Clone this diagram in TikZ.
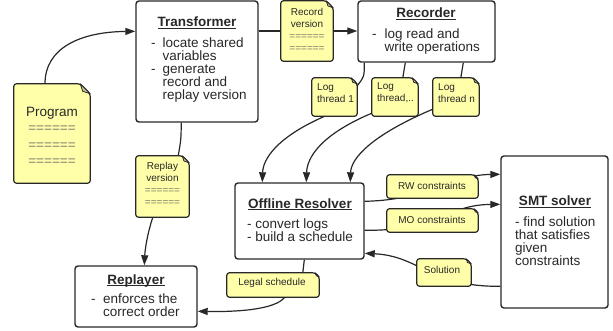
\documentclass[tikz,border=0pt]{standalone}
\usepackage{fontspec}
\setmainfont{Liberation Sans}
\usetikzlibrary{arrows.meta,calc}
\definecolor{notefill}{RGB}{255,255,170}
\definecolor{foldcol}{RGB}{200,196,140}
\definecolor{ink}{RGB}{40,40,40}
\definecolor{eqcol}{RGB}{125,125,105}
\newsavebox\ttlbox
\newcommand\ttl[1]{\sbox\ttlbox{\textbf{#1}}\rlap{\usebox\ttlbox}\rule[-2.4pt]{\wd\ttlbox}{1.1pt}}
\newcommand\eqs{\textcolor{eqcol}{======}}
\newcommand\notefold[2]{%
  \path[noteline] (#1.south west) -- (#1.north west) -- ($(#1.north east)+(-#2,0)$) -- ($(#1.north east)+(0,#2)$) -- (#1.south east) -- cycle;
  \path[foldline] ($(#1.north east)+(-#2,0)$) -- ($(#1.north east)+(-0.75*#2,0.75*#2)$) -- ($(#1.north east)+(0,#2)$) -- cycle;
}
\tikzset{
  box/.style={draw=ink, line width=1.4pt, fill=white, rounded corners=3pt, inner sep=0pt},
  hold/.style={inner sep=0pt, draw=none},
  sz/.style 2 args={minimum width=#1pt, minimum height=#2pt},
  noteline/.style={draw=ink, line width=1.2pt, fill=notefill, rounded corners=2.5pt, line join=round},
  foldline/.style={draw=ink, line width=0.8pt, fill=foldcol, line join=round},
  conn/.style={draw=ink, line width=1.2pt},
  arr/.style={conn, -{Triangle[length=10pt,width=7pt]}},
  big/.style={font=\fontsize{13.5}{13}\selectfont, text=ink, inner sep=0pt},
  small/.style={font=\fontsize{10}{12}\selectfont, text=ink, inner sep=0pt},
}
\begin{document}
\begin{tikzpicture}[x=1pt,y=-1pt]
\useasboundingbox (0,0) rectangle (613,331);
% shapes
\node[box, sz={122}{121}] (trans) at (197,61.5) {};
\node[hold, sz={76}{99}] (prog) at (52,133.5) {};
\node[hold, sz={52}{60}] (recv) at (307,31) {};
\node[box, sz={137}{61}] (rec) at (426.5,31.5) {};
\node[hold, sz={45}{38}] (lt1) at (334.5,97) {};
\node[hold, sz={46}{38}] (lt2) at (395,97) {};
\node[hold, sz={46}{38}] (lt3) at (456,97) {};
\node[box, sz={129}{76}] (off) at (299.5,221) {};
\node[hold, sz={53}{61}] (repv) at (162.5,186.5) {};
\node[box, sz={122}{61}] (repl) at (136,296.5) {};
\node[hold, sz={92}{24}] (legal) at (273,285) {};
\node[hold, sz={91}{23}] (rw) at (432.5,186.5) {};
\node[hold, sz={91}{23}] (mo) at (432.5,220.5) {};
\node[hold, sz={54}{27}] (sol) at (444,272.5) {};
\node[box, sz={107}{152}] (smt) at (554.5,232) {};
\notefold{prog}{10}
\notefold{recv}{7}
\notefold{repv}{7}
\notefold{lt1}{6}
\notefold{lt2}{6}
\notefold{lt3}{6}
% connectors
\draw[arr] ($(prog.north)+(-7,0)$) .. controls (45,48) and (80,32) .. ($(trans.north west)+(0,31)$);
\draw[conn] (trans.east |- recv.west) -- (recv.west);
\draw[arr] (recv.east) -- (recv.east -| rec.west);
\draw[conn] ($(rec.south west)+(7,0)$) .. controls ($(rec.south west)+(7,14)$) .. ($(lt1.north east)+(0,8)$);
\draw[conn] ($(rec.south west)+(48,0)$) -- ($(lt2.north west)+(31,0)$);
\draw[conn] ($(rec.south west)+(106,0)$) -- ($(lt3.north west)+(28,0)$);
\draw[arr] ($(lt1.south west)+(13,0)$) .. controls (275,138) and (263,160) .. ($(off.north west)+(28,0)$);
\draw[arr] ($(lt2.south west)+(0,-3)$) .. controls (320,135) and (307,158) .. ($(off.north west)+(72,0)$);
\draw[arr] ($(lt3.south west)+(0,-7)$) .. controls (372,135) and (351,158) .. ($(off.north west)+(116,0)$);
\draw[conn] ($(trans.south west)+(46,0)$) .. controls (181,140) .. ($(repv.north east)+(-11,0)$);
\draw[arr] ($(repv.south west)+(17,0)$) .. controls (147,235) and (145,250) .. ($(repl.north west)+(70,0)$);
\draw[conn] ($(off.south west)+(70,0)$) -- ($(legal.north west)+(76,0)$);
\draw[arr] ($(legal.south west)+(58,0)$) .. controls (275,310) and (235,312) .. ($(repl.north east)+(0,46)$);
\draw[arr] ($(off.north east)+(0,19)$) .. controls (430,200) and (450,175) .. ($(smt.north west)+(0,19)$);
\draw[arr] ($(off.north east)+(0,48)$) .. controls (440,231) and (445,205) .. ($(smt.north west)+(0,49)$);
\draw[arr] ($(smt.north west)+(0,131)$) .. controls (430,287) and (420,256) .. ($(off.north east)+(0,71)$);
\notefold{rw}{4}
\notefold{mo}{4}
\notefold{sol}{5}
\notefold{legal}{4}
% texts
\node[big, anchor=base] (trans-h) at (197,27) {\ttl{Transformer}};
\node[big, anchor=north west, align=left] (trans-b) at (151,37) {\rule{0pt}{10pt}\makebox[11.5pt][l]{-}locate shared\\\hspace*{11.5pt}variables\\\makebox[11.5pt][l]{-}generate\\\hspace*{11.5pt}record and\\\hspace*{11.5pt}replay version};
\node[big, anchor=base] (rec-h) at (426,18) {\ttl{Recorder}};
\node[big, anchor=north west, align=left] (rec-b) at (372,28) {\rule{0pt}{10pt}\makebox[12.5pt][l]{-}log read and\\\hspace*{12.5pt}write operations};
\node[big, anchor=base] (off-h) at (300,208) {\ttl{Offline Resolver}};
\node[big, anchor=north west, align=left] (off-b) at (247,218) {\rule{0pt}{10pt}- convert logs\\- build a schedule};
\node[big, anchor=base] (repl-h) at (136,284) {\ttl{Replayer}};
\node[big, anchor=north west, align=left] (repl-b) at (91,293) {\rule{0pt}{10pt}\makebox[12pt][l]{-}enforces the\\\hspace*{12pt}correct order};
\node[big, anchor=base] (smt-h) at (555,206) {\ttl{SMT solver}};
\node[big, anchor=north west, align=left] (smt-b) at (515,216) {\rule{0pt}{10pt}- find solution\\that satisfies\\given\\constraints};
\node[big, anchor=north, align=center, font=\fontsize{13.5}{16.5}\selectfont] (prog-t) at (52,106) {\rule{0pt}{10pt}Program\\\eqs\\\eqs\\\eqs};
\node[small, anchor=north, align=center] (recv-t) at (307,8) {\rule{0pt}{7.5pt}Record\\version\\\eqs\\\eqs};
\node[small, anchor=north, align=center] (repv-t) at (162.5,162) {\rule{0pt}{7.5pt}Replay\\version\\\eqs\\\eqs};
\node[small, anchor=north west, align=left] (lt1-t) at (317,83) {\rule{0pt}{7.5pt}Log\\thread 1};
\node[small, anchor=north west, align=left] (lt2-t) at (377,82) {\rule{0pt}{7.5pt}Log\\thread,..};
\node[small, anchor=north west, align=left] (lt3-t) at (438,83) {\rule{0pt}{7.5pt}Log\\thread n};
\node[small] (rw-t) at (432,186) {RW constraints};
\node[small] (mo-t) at (432,220) {MO constraints};
\node[small] (sol-t) at (442,270) {Solution};
\node[small] (legal-t) at (272,283) {Legal schedule};
\end{tikzpicture}
\end{document}
